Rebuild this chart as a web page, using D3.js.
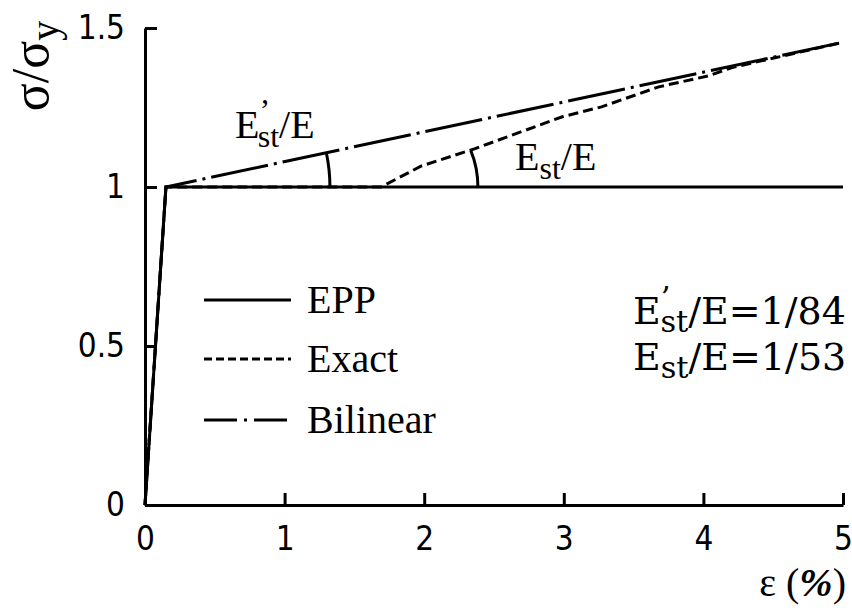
<!DOCTYPE html>
<html>
<head>
  <meta charset="UTF-8">
  <title>Stress-strain models</title>
  <script src="https://d3js.org/d3.v7.min.js"></script>
  <style>
    body { margin: 0; background: #fff; }
    .axis path, .axis line { stroke: #000; stroke-width: 3; fill: none; }
    .axis text {
      font-family: "DejaVu Sans Condensed", "DejaVu Sans", sans-serif;
      font-stretch: condensed;
      font-size: 33px;
      fill: #000;
    }
    .curve { fill: none; stroke: #000; stroke-width: 3; }
    .tnr { font-family: "Liberation Serif"; }
    .dvs { font-family: "DejaVu Serif"; }
  </style>
</head>
<body>
  <svg width="852" height="612"></svg>

  <script>
    // x: strain (%), y: normalised stress
    const xTicks = [0, 1, 2, 3, 4, 5];
    const yTicks = [0, 0.5, 1, 1.5];

    const eppX = [0, 0.15, 5];
    const eppY = [0, 1, 1];

    const exactX = [0, 0.15, 1.69, 1.98, 2.36, 2.99, 3.27, 3.68, 4.04, 4.2, 5];
    const exactY = [0, 1, 1, 1.066, 1.12, 1.221, 1.252, 1.315, 1.35, 1.375, 1.455];

    const bilinX = [0, 0.15, 5];
    const bilinY = [0, 1, 1.455];

    const legendLabels = ["EPP", "Exact", "Bilinear"];

    const svg = d3.select("svg");
    svg.append("rect").attr("width", 852).attr("height", 612).attr("fill", "#fff");

    const x = d3.scaleLinear().domain([0, 5]).range([145, 843]);
    const y = d3.scaleLinear().domain([0, 1.5]).range([505, 28]);

    // axes, ticks pointing inward
    svg.append("g")
      .attr("class", "axis")
      .attr("transform", `translate(0,${y(0)})`)
      .call(d3.axisBottom(x).tickValues(xTicks).tickSizeInner(-12).tickSizeOuter(0).tickPadding(22)
        .tickFormat(d3.format("d")));

    svg.append("g")
      .attr("class", "axis")
      .attr("transform", `translate(${x(0)},0)`)
      .call(d3.axisLeft(y).tickValues(yTicks).tickSizeInner(-12).tickSizeOuter(0).tickPadding(20)
        .tickFormat(d => String(d)));

    const line = d3.line().x(d => x(d[0])).y(d => y(d[1]));

    svg.append("path")
      .attr("class", "curve")
      .attr("d", line(exactX.map((v, i) => [v, exactY[i]])))
      .attr("stroke-dasharray", "10 5");

    svg.append("path")
      .attr("class", "curve")
      .attr("d", line(bilinX.map((v, i) => [v, bilinY[i]])))
      .attr("stroke-dasharray", "58 6 3 6");

    svg.append("path")
      .attr("class", "curve")
      .attr("d", line(eppX.map((v, i) => [v, eppY[i]])));

    // angle arcs
    function angleArc(cx, cy, x2, y2, r) {
      const px = x(cx), py = y(cy);
      const a = Math.atan2(y(y2) - py, x(x2) - px);
      const p = d3.path();
      p.arc(px, py, r, 0, a, true);
      svg.append("path").attr("class", "curve").attr("stroke-width", 2.5).attr("d", p.toString());
    }
    angleArc(0.15, 1, 5, 1.455, 164);
    angleArc(1.69, 1, 2.36, 1.12, 97);

    function serifText(px, py, size, cls) {
      return svg.append("text")
        .attr("class", cls)
        .attr("x", px).attr("y", py)
        .attr("font-size", size)
        .attr("fill", "#000");
    }

    // modulus labels: E (sub st) / E, with optional prime over the subscript
    function modLabel(px, py, size, rest, prime, cls) {
      const t = serifText(px, py, size, cls);
      t.append("tspan").text("E");
      const sub = size * 0.8;
      if (prime) {
        t.append("tspan").attr("dy", -size * 0.42).attr("font-size", sub).text("’");
        t.append("tspan").attr("dx", -sub * 0.33).attr("dy", size * 0.64).attr("font-size", sub).text("st");
      } else {
        t.append("tspan").attr("dy", size * 0.22).attr("font-size", sub).text("st");
      }
      t.append("tspan").attr("dy", -size * 0.22).text(rest);
    }
    modLabel(235, 138, 40, "/E", true, "tnr");
    modLabel(515, 170, 40, "/E", false, "tnr");
    modLabel(633, 324, 38, "/E=1/84", true, "dvs");
    modLabel(633, 370, 38, "/E=1/53", false, "dvs");

    // legend
    const legendY = [300, 359, 420];
    const dashes = [null, "8 4", "33 7 3 7"];
    const lg = svg.append("g");
    legendLabels.forEach((lab, i) => {
      lg.append("line").attr("class", "curve")
        .attr("x1", 204).attr("x2", 291)
        .attr("y1", legendY[i]).attr("y2", legendY[i])
        .attr("stroke-width", 2.5)
        .attr("stroke-dasharray", dashes[i]);
      serifText(307, legendY[i] + 13, 40, "tnr").text(lab);
    });

    // axis titles
    const yl = svg.append("text")
      .attr("class", "tnr")
      .attr("transform", "translate(48,66) rotate(-90)")
      .attr("text-anchor", "middle")
      .attr("font-size", 52);
    yl.append("tspan").text("σ/σ");
    yl.append("tspan").attr("dy", 10).attr("font-size", 40).text("y");

    const xl = serifText(846, 596, 40, "tnr").attr("text-anchor", "end");
    xl.append("tspan").text("ε  (");
    xl.append("tspan").attr("font-style", "italic").attr("font-weight", "bold").text("%");
    xl.append("tspan").text(")");
  </script>
</body>
</html>
